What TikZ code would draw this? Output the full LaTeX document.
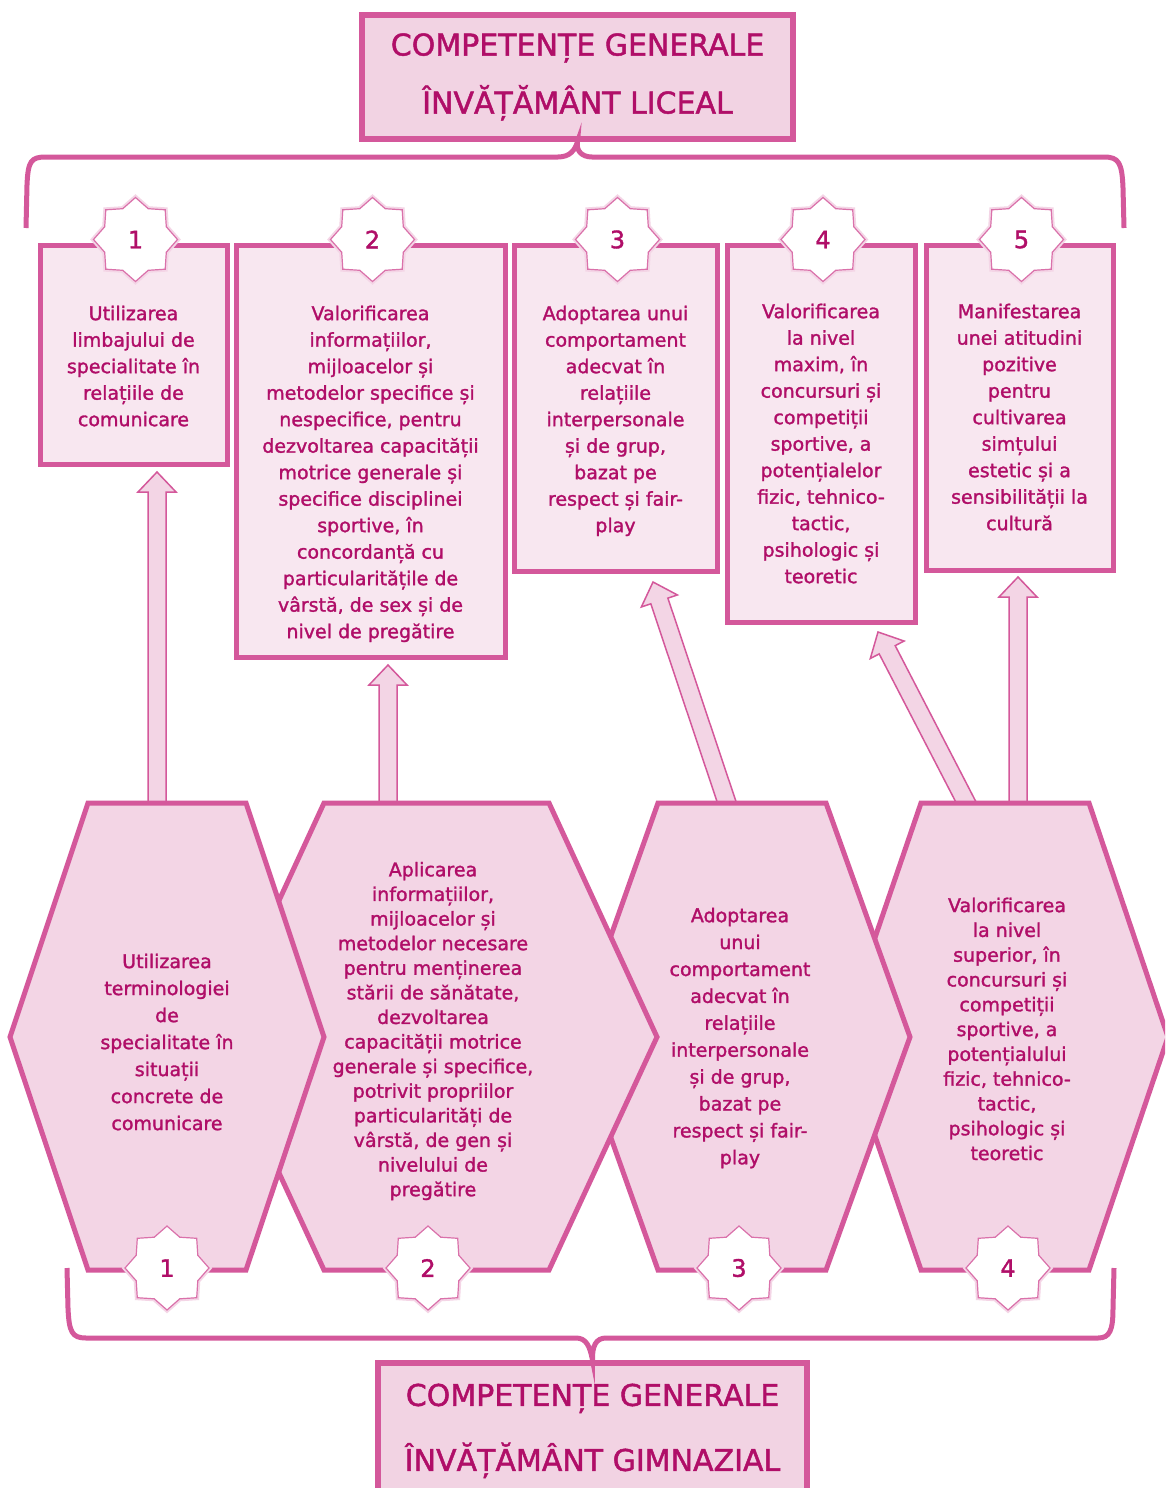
\documentclass[tikz,border=0pt]{standalone}
\usepackage{fontspec}
\setmainfont{DejaVu Sans}[FakeBold=1.5]
\usetikzlibrary{shapes.geometric,calc,positioning}
\definecolor{rim}{RGB}{212,88,155}
\definecolor{ink}{RGB}{176,14,104}
\definecolor{hexfill}{RGB}{243,213,229}
\definecolor{boxfill}{RGB}{248,231,240}
\definecolor{headfill}{RGB}{242,211,227}

% hollow block arrow from #1 to #2
\newcommand{\blockarrow}[2]{%
  \coordinate (#1h) at ($(#2)!20pt!(#1)$);
  \path[arrowbody] ($(#1)!9pt!90:(#2)$) -- ($(#1h)!9pt!90:(#2)$)
    -- ($(#1h)!19pt!90:(#2)$) -- (#2) -- ($(#1h)!19pt!-90:(#2)$)
    -- ($(#1h)!9pt!-90:(#2)$) -- ($(#1)!9pt!-90:(#2)$) -- cycle;
}

\begin{document}
\begin{tikzpicture}[
    x=1pt, y=-1pt,
    head/.style = {draw=rim, line width=5.5pt, fill=headfill, text=ink, align=center,
      font=\fontsize{30}{58}\selectfont},
    topbox/.style = {draw=rim, line width=5pt, fill=boxfill},
    boxtext/.style = {align=center, text=ink, inner sep=0pt,
      font=\fontsize{19}{26.5}\selectfont},
    hexa/.style = {draw=rim, line width=5pt, fill=hexfill, line join=miter},
    hextext/.style = {align=center, text=ink, inner sep=0pt,
      font=\fontsize{19}{24.6}\selectfont},
    badge/.style = {star, star points=8, star point ratio=1.26, minimum size=84pt,
      inner sep=0pt, fill=white, draw=rim!85, line width=1.2pt, text=ink,
      font=\fontsize{24}{24}\selectfont,
      preaction={draw=rim!25, line width=5pt}},
    brace/.style = {draw=rim, line width=5pt},
    arrowbody/.style = {draw=rim, line width=1.5pt, fill=hexfill, line join=miter},
    ]
    \useasboundingbox (0,0) rectangle (1165,1488);
    \fill[white] (0,0) rectangle (1165,1488);
    \clip (0,0) rectangle (1165,1488);

    \node[head, minimum width=431pt, minimum height=124pt] (lic) at (577.5,77)
      {COMPETENȚE GENERALE\\ÎNVĂȚĂMÂNT LICEAL};
    \node[head, minimum width=429pt, minimum height=128pt,
      font=\fontsize{30}{65}\selectfont] (gim) at (592.5,1427)
      {\rule{0pt}{30pt}COMPETENȚE GENERALE\\ÎNVĂȚĂMÂNT GIMNAZIAL};

    % braces
    \path[brace] (26,228) -- (27,185) .. controls (28,161) and (31,157) .. (46,157)
      -- (558,157) .. controls (570,157) and (575,150) .. (lic.south)
      .. controls (576,150) and (581,157) .. (592,157) -- (1104,157)
      .. controls (1119,157) and (1122,163) .. (1123,188) -- (1124,228);
    \path[brace] (67,1268) -- (68,1308) .. controls (69,1332) and (72,1338) .. (86,1338)
      -- (576,1338) .. controls (586,1338) and (590,1346) .. (gim.north)
      .. controls (592,1346) and (596,1338) .. (606,1338) -- (1098,1338)
      .. controls (1110,1338) and (1113,1330) .. (1113,1308) -- (1114,1268);

    % arrows
    \coordinate (a1) at (157,806);  \coordinate (a1t) at (157,472);
    \coordinate (a2) at (388,806);  \coordinate (a2t) at (388,665);
    \coordinate (a3) at (728,806);  \coordinate (a3t) at (653,582);
    \coordinate (a4) at (968,806);  \coordinate (a4t) at (878,632);
    \coordinate (a5) at (1018,806); \coordinate (a5t) at (1018,577);
    \blockarrow{a1}{a1t}
    \blockarrow{a2}{a2t}
    \blockarrow{a3}{a3t}
    \blockarrow{a4}{a4t}
    \blockarrow{a5}{a5t}

    % hexagons, last one first
    \foreach \l/\a/\b/\r in {841/921/1089/1168, 575/658/826/910,
        216/324/549/657, 10/88/246/324}
      \path[hexa] (\l,1037) -- (\a,803) -- (\b,803) -- (\r,1037)
        -- (\b,1270) -- (\a,1270) -- cycle;

    \node[hextext, font=\fontsize{19}{27}\selectfont] (h1) at (167,1042)
      {Utilizarea\\terminologiei\\de\\specialitate în\\situații\\concrete de\\comunicare};
    \node[hextext] (h2) at (433,1031)
      {Aplicarea\\informațiilor,\\mijloacelor și\\metodelor necesare\\pentru menținerea\\stării de sănătate,\\dezvoltarea\\capacității motrice\\generale și specifice,\\potrivit propriilor\\particularități de\\vârstă, de gen și\\nivelului de\\pregătire};
    \node[hextext, font=\fontsize{19}{26.9}\selectfont] (h3) at (740,1038)
      {Adoptarea\\unui\\comportament\\adecvat în\\relațiile\\interpersonale\\și de grup,\\bazat pe\\respect și fair-\\play};
    \node[hextext, font=\fontsize{19}{24.8}\selectfont] (h4) at (1007,1029)
      {Valorificarea\\la nivel\\superior, în\\concursuri și\\competiții\\sportive, a\\potențialului\\fizic, tehnico-\\tactic,\\psihologic și\\teoretic};

    \node[badge] (g1) at (167,1268) {1};
    \node[badge] (g2) at (428,1268) {2};
    \node[badge] (g3) at (739,1268) {3};
    \node[badge] (g4) at (1008,1268) {4};

    % top boxes
    \node[topbox, minimum width=187pt, minimum height=219pt] (box1) at (133.5,354.5) {};
    \node[topbox, minimum width=269pt, minimum height=412pt] (box2) at (370.5,451) {};
    \node[topbox, minimum width=203pt, minimum height=326pt] (box3) at (615.5,408) {};
    \node[topbox, minimum width=188pt, minimum height=377pt] (box4) at (821,433.5) {};
    \node[topbox, minimum width=187pt, minimum height=325pt] (box5) at (1019.5,407.5) {};

    \node[boxtext, below=63pt of box1.north] (t1)
      {Utilizarea\\limbajului de\\specialitate în\\relațiile de\\comunicare};
    \node[boxtext, below=63pt of box2.north] (t2)
      {Valorificarea\\informațiilor,\\mijloacelor și\\metodelor specifice și\\nespecifice, pentru\\dezvoltarea capacității\\motrice generale și\\specifice disciplinei\\sportive, în\\concordanță cu\\particularitățile de\\vârstă, de sex și de\\nivel de pregătire};
    \node[boxtext, below=63pt of box3.north] (t3)
      {Adoptarea unui\\comportament\\adecvat în\\relațiile\\interpersonale\\și de grup,\\bazat pe\\respect și fair-\\play};
    \node[boxtext, below=61pt of box4.north] (t4)
      {Valorificarea\\la nivel\\maxim, în\\concursuri și\\competiții\\sportive, a\\potențialelor\\fizic, tehnico-\\tactic,\\psihologic și\\teoretic};
    \node[boxtext, below=61pt of box5.north] (t5)
      {Manifestarea\\unei atitudini\\pozitive\\pentru\\cultivarea\\simțului\\estetic și a\\sensibilității la\\cultură};

    \foreach \i in {1,...,5}
      \node[badge] (s\i) at ($(box\i.north)+(2,-3)$) {\i};
\end{tikzpicture}
\end{document}
